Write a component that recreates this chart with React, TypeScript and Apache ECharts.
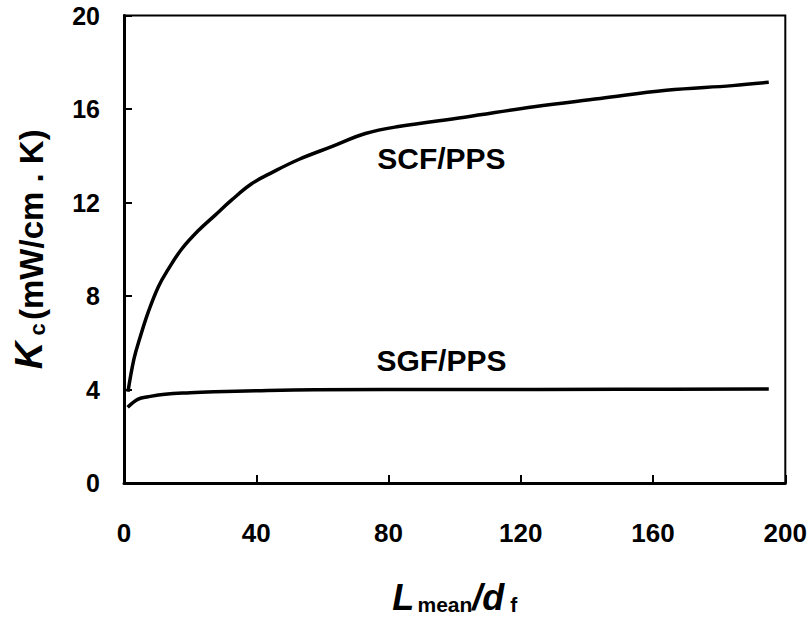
import React, { useEffect, useRef } from "react";
import * as echarts from "echarts";

const scfX = [1.2, 3, 4.8, 7.3, 10.4, 13.4, 17.4, 22.5, 27.5, 32.5, 38.6, 45, 53, 63, 73, 83, 103, 124, 144, 164, 184, 195];
const scfY = [3.9, 5.3, 6.2, 7.3, 8.4, 9.15, 10.0, 10.8, 11.45, 12.1, 12.8, 13.3, 13.85, 14.4, 14.95, 15.25, 15.65, 16.1, 16.45, 16.8, 17.0, 17.14];
const sgfX = [1.1, 4.3, 7.3, 12.4, 20, 27.5, 40, 57.7, 100, 150, 195];
const sgfY = [3.24, 3.59, 3.69, 3.8, 3.86, 3.9, 3.95, 3.99, 4.0, 4.01, 4.02];
const curveLabels = [
  { name: "SCF/PPS", x: 96, y: 13.9 },
  { name: "SGF/PPS", x: 96, y: 5.22 },
];

const FONT = "'Liberation Sans', Arial, sans-serif";

export default function App() {
  const ref = useRef<HTMLDivElement>(null);
  useEffect(() => {
    if (!ref.current) return;
    const chart = echarts.init(ref.current, null, { renderer: "svg" });
    const zip = (xs: number[], ys: number[]) => xs.map((x, i) => [x, ys[i]]);
    chart.setOption({
      animation: false,
      backgroundColor: "#fff",
      textStyle: { fontFamily: FONT },
      grid: {
        left: 124,
        top: 12,
        right: 24,
        bottom: 133,
        show: true,
        borderColor: "#000",
        borderWidth: 2,
      },
      xAxis: {
        type: "value",
        min: 0,
        max: 200,
        interval: 40,
        axisLine: { show: true, onZero: false, lineStyle: { color: "#000", width: 3 } },
        axisTick: { show: true, inside: true, length: 8, lineStyle: { color: "#000", width: 2 } },
        splitLine: { show: false },
        axisLabel: { color: "#000", fontSize: 26, fontWeight: "bold", fontFamily: FONT, margin: 37 },
        name: "{L|L} {s|mean}{L|/d}{s| f}",
        nameLocation: "middle",
        nameGap: 92,
        nameTextStyle: {
          rich: {
            L: { fontSize: 36, fontStyle: "italic", fontWeight: "bold", fontFamily: FONT, color: "#000", lineHeight: 40, verticalAlign: "bottom" },
            s: { fontSize: 21, fontWeight: "bold", fontFamily: FONT, color: "#000", lineHeight: 30, verticalAlign: "bottom" },
          },
        },
      },
      yAxis: {
        type: "value",
        min: 0,
        max: 20,
        interval: 4,
        axisLine: { show: true, onZero: false, lineStyle: { color: "#000", width: 3 } },
        axisTick: { show: true, inside: true, length: 8, lineStyle: { color: "#000", width: 2 } },
        splitLine: { show: false },
        axisLabel: {
          color: "#000",
          fontSize: 25,
          lineHeight: 25,
          padding: [6, 0, 0, 0],
          fontWeight: "bold",
          fontFamily: FONT,
          margin: 24,
        },
        name: "{K|K}{s| c} {n|(mW/cm . K)}",
        nameLocation: "middle",
        nameRotate: 90,
        nameGap: 76,
        nameTextStyle: {
          rich: {
            K: { fontSize: 38, fontStyle: "italic", fontWeight: "bold", fontFamily: FONT, color: "#000", lineHeight: 42, verticalAlign: "bottom" },
            s: { fontSize: 22, fontWeight: "bold", fontFamily: FONT, color: "#000", lineHeight: 30, verticalAlign: "bottom" },
            n: { fontSize: 33, fontWeight: "bold", fontFamily: FONT, color: "#000", lineHeight: 42, verticalAlign: "bottom" },
          },
        },
      },
      series: [
        {
          name: "SCF/PPS",
          type: "line",
          data: zip(scfX, scfY),
          smooth: 0.4,
          showSymbol: false,
          symbol: "none",
          lineStyle: { color: "#000", width: 3.5 },
        },
        {
          name: "SGF/PPS",
          type: "line",
          data: zip(sgfX, sgfY),
          smooth: 0.4,
          showSymbol: false,
          symbol: "none",
          lineStyle: { color: "#000", width: 3.5 },
        },
        {
          type: "scatter",
          symbolSize: 1,
          itemStyle: { color: "rgba(0,0,0,0)", opacity: 1 },
          data: curveLabels.map((c) => ({ value: [c.x, c.y], name: c.name })),
          label: {
            show: true,
            position: "inside",
            formatter: (p: any) => p.name,
            color: "#000",
            opacity: 1,
            textBorderWidth: 0,
            fontSize: 30,
            fontWeight: "bold",
            fontFamily: FONT,
          },
          silent: true,
        },
      ],
    });
    return () => chart.dispose();
  }, []);
  return (
    <div
      ref={ref}
      style={{ position: "fixed", left: 0, top: 0, width: 810, height: 620, background: "#fff" }}
    />
  );
}
